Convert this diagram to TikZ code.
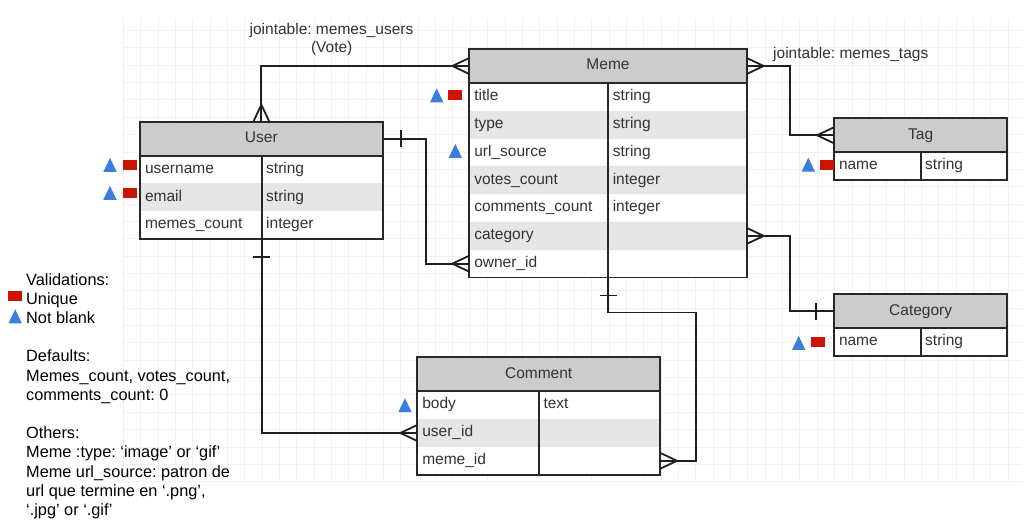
\documentclass[tikz,border=0pt]{standalone}
\usepackage{fontspec}
\setmainfont{Liberation Sans}
\usetikzlibrary{calc}
\frenchspacing

\definecolor{headfill}{RGB}{204,204,204}
\definecolor{rowshade}{RGB}{230,230,230}
\definecolor{txt}{RGB}{51,51,51}
\definecolor{bordercol}{RGB}{40,40,40}
\definecolor{gridcol}{RGB}{241,241,241}
\definecolor{uniqred}{RGB}{204,20,0}
\definecolor{blankblue}{RGB}{58,125,221}

\newcommand\tabfont{\fontsize{15.5}{18}\selectfont}
\newcommand\legfont{\fontsize{16.3}{19}\selectfont}

\tikzset{
  erhead/.style={rectangle, draw=bordercol, fill=headfill, line width=1.7pt,
    anchor=north west, outer sep=0pt, inner sep=0pt, minimum height=34pt,
    font=\tabfont, text=txt, text height=11pt, text depth=3.5pt},
  ercell/.style={rectangle, anchor=north west, outer sep=0pt, inner ysep=0pt,
    minimum height=27.8pt, font=\tabfont, text=txt, text height=11pt,
    text depth=3.5pt, align=left},
  erborder/.style={draw=bordercol, line width=1.7pt},
  conn/.style={draw=black!88, line width=1.8pt},
  crow/.pic={\draw[conn] (-17,0) -- (0,8) (-17,0) -- (0,-8);},
  onetick/.pic={\draw[conn] (-18,-8.5) -- (-18,8.5);},
  uniq/.pic={\fill[uniqred] (-7,-5) rectangle (7,5);},
  notblank/.pic={\fill[blankblue] (-6.7,7) -- (6.7,7) -- (0,-7) -- cycle;},
  jointext/.style={font=\tabfont, text=txt, inner sep=0pt},
  legtext/.style={font=\legfont, text=black, inner sep=0pt, anchor=base west},
}

% entity table: name, left, top, width, key column width, rows, title, fields
\newcommand\erentity[8]{%
  \pgfmathsetmacro\erW{#4}%
  \pgfmathsetmacro\erK{#5-10}%
  \pgfmathsetmacro\erT{#4-#5-9}%
  \node[erhead, minimum width=\erW pt] (#1-h) at (#2,#3) {#7};
  \foreach \fname/\ftype/\fcol [count=\i] in {#8} {
    \node[ercell, fill=\fcol, text width=\erK pt, inner xsep=5pt]
      (#1-k\i) at (#2,{#3+34+(\i-1)*27.8}) {\fname};
    \node[ercell, fill=\fcol, text width=\erT pt, inner xsep=4.5pt]
      (#1-t\i) at (#1-k\i.north east) {\ftype};
  }
  \draw[erborder] (#1-h.south west) rectangle (#1-t#6.south east);
  \draw[erborder] (#1-k1.north east) -- (#1-k#6.south east);
}

\newcommand\legline[2]{\node[legtext] (leg#1) at (26,{285.3+#1*19.17}) {#2};}

\begin{document}
\begin{tikzpicture}[x=1pt, y=-1pt]
  \useasboundingbox (0,0) rectangle (1030,526);
  \fill[white] (0,0) rectangle (1030,526);

  % background grid
  \foreach \k in {0,...,51}
    \draw[gridcol, line width=1pt] ({123.3+\k*17.35},18.3) -- ({123.3+\k*17.35},481.7);
  \foreach \k in {0,...,26}
    \draw[gridcol, line width=1pt] (123.3,{481.7-\k*17.35}) -- (1022.3,{481.7-\k*17.35});

  % entities
  \erentity{User}{140}{121.7}{242.7}{121.7}{3}{User}{username/string/white,
    email/string/rowshade, memes\_count/integer/white}
  \erentity{Meme}{469.3}{49}{277.4}{139}{7}{Meme}{title/string/white,
    type/string/rowshade, url\_source/string/white, votes\_count/integer/rowshade,
    comments\_count/integer/white, category//rowshade, owner\_id//white}
  \erentity{Tag}{834}{118.3}{173.3}{86.7}{1}{Tag}{name/string/white}
  \erentity{Category}{834}{294.3}{173.3}{86.7}{1}{Category}{name/string/white}
  \erentity{Comment}{417.3}{357.3}{242.7}{121.7}{3}{Comment}{body/text/white,
    user\_id//rowshade, meme\_id//white}

  % relationships
  \draw[conn] (Meme-h.west) -| (User-h.north);
  \draw[conn] (Meme-h.east) -- ++(43.3,0) |- (Tag-h.west);
  \draw[conn] (Meme-t6.east) -- ++(43.3,0) |- (Category-h.west);
  \draw[conn] (User-h.east) -- ++(43,0) |- (Meme-k7.west);
  \draw[conn] (User-k3.south east) |- (Comment-k2.west);
  \draw[conn] (Meme-k7.south east) -- ++(0,35) -| ($(Comment-t3.east)+(36,0)$) -- (Comment-t3.east);

  % cardinality ends
  \path (Meme-h.west) pic{crow};
  \path (User-h.north) pic[rotate=-90]{crow};
  \path (Meme-h.east) pic[rotate=180]{crow};
  \path (Tag-h.west) pic{crow};
  \path (Meme-t6.east) pic[rotate=180]{crow};
  \path (Category-h.west) pic{onetick};
  \path (User-h.east) pic[rotate=180]{onetick};
  \path (Meme-k7.west) pic{crow};
  \path (User-k3.south east) pic[rotate=90]{onetick};
  \path (Comment-k2.west) pic{crow};
  \path (Meme-k7.south east) pic[rotate=90]{onetick};
  \path (Comment-t3.east) pic[rotate=180]{crow};

  % relationship labels
  \node[jointext, anchor=base] (voteA) at (331.5,34.5) {jointable: memes\_users};
  \node[jointext, anchor=base] (voteB) at (331.7,52.5) {(Vote)};
  \node[jointext, anchor=base west] (tagsA) at (773,58.5) {jointable: memes\_tags};

  % validation markers
  \path ($(User-k1.west)+(-10.3,-5)$) pic{uniq}
        ($(User-k1.west)+(-30,-4.7)$) pic{notblank};
  \path ($(User-k2.west)+(-10.3,-4.6)$) pic{uniq}
        ($(User-k2.west)+(-30,-4.5)$) pic{notblank};
  \path ($(Meme-k1.west)+(-14,-1.8)$) pic{uniq}
        ($(Meme-k1.west)+(-32.6,-1.5)$) pic{notblank};
  \path ($(Meme-k3.west)+(-14,-1.5)$) pic{notblank};
  \path ($(Tag-k1.west)+(-7,-1.3)$) pic{uniq}
        ($(Tag-k1.west)+(-25.7,-1.5)$) pic{notblank};
  \path ($(Category-k1.west)+(-16.2,-0.3)$) pic{uniq}
        ($(Category-k1.west)+(-35.3,0.7)$) pic{notblank};
  \path ($(Comment-k1.west)+(-12.3,0)$) pic{notblank};

  % notes
  \legline{0}{Validations:}
  \legline{1}{Unique}
  \legline{2}{Not blank}
  \legline{4}{Defaults:}
  \legline{5}{Memes\_count, votes\_count,}
  \legline{6}{comments\_count: 0}
  \legline{8}{Others:}
  \legline{9}{Meme :type: ‘image’ or ‘gif’}
  \legline{10}{Meme url\_source: patron de}
  \legline{11}{url que termine en ‘.png’,}
  \legline{12}{‘.jpg’ or ‘.gif’}
  \path ($(leg1.base west)+(-10.7,-8.3)$) pic{uniq};
  \path ($(leg2.base west)+(-10.8,-7.3)$) pic{notblank};
\end{tikzpicture}
\end{document}
